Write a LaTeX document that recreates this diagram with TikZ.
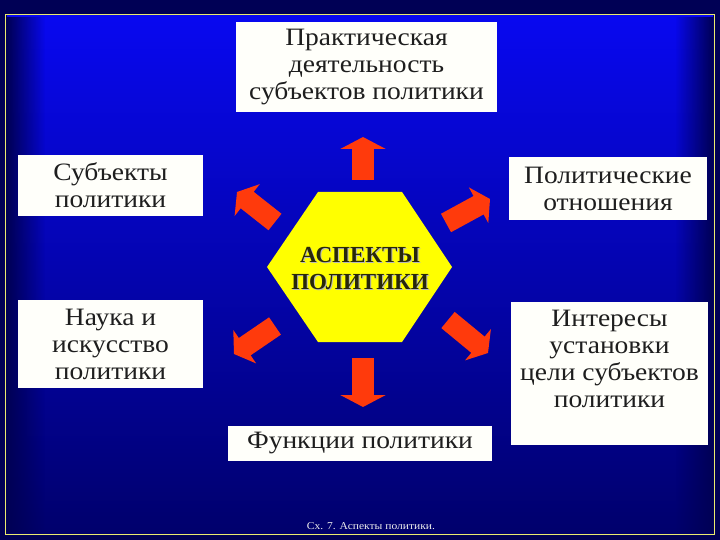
\documentclass[tikz,border=0pt]{standalone}
\usepackage{fontspec}
\setmainfont{Liberation Serif}[FakeStretch=1.1]
\newfontfamily\hexfont{Liberation Serif}
\usepackage{tikz}
\usetikzlibrary{arrows.meta,fadings}
\definecolor{outernavy}{RGB}{0,0,85}
\definecolor{topblue}{RGB}{8,8,240}
\definecolor{botblue}{RGB}{0,0,108}
\definecolor{frameyellow}{RGB}{235,235,110}
\definecolor{boxwhite}{RGB}{255,255,250}
\definecolor{boxtext}{RGB}{30,30,30}
\definecolor{arrowred}{RGB}{255,58,12}
\definecolor{hexyellow}{RGB}{255,255,0}
\definecolor{hextext}{RGB}{40,40,10}

\begin{document}
\begin{tikzpicture}[x=1pt,y=-1pt]
      \tikzstyle{boxlabel}=[text=boxtext,inner sep=0pt,align=center,font=\fontsize{25}{27}\selectfont]
      \tikzstyle{box}=[boxlabel,fill=boxwhite]
      \tikzstyle{hextitle}=[text=hextext,inner sep=0pt,align=center,font=\hexfont\bfseries\fontsize{23}{26.5}\selectfont]
      \tikzstyle{varrow}=[line width=22pt,draw=arrowred,-{Triangle[width=45pt,length=12pt]}]
      \tikzstyle{darrow}=[line width=21pt,draw=arrowred,-{Triangle[width=40pt,length=13pt]}]
      %%% background and frame
      \useasboundingbox (0,0) rectangle (720,540);
      \fill[outernavy] (0,0) rectangle (720,540);
      \shade[top color=topblue,bottom color=botblue] (7,16) rectangle (713,533);
      \fill[outernavy,path fading=east] (7,16) rectangle (45,533);
      \fill[outernavy,path fading=west] (675,16) rectangle (713,533);
      \draw[frameyellow,line width=1.5pt] (5.5,14.5) rectangle (714.5,534.5);
      %%% hexagon
      \fill[hexyellow] (267,267) -- (318,192) -- (402,192) -- (452,267) -- (402,342) -- (318,342) -- cycle;
      \node[hextitle,text=gray!55] (aspectsShadow) at (361,269.5) {АСПЕКТЫ\\ПОЛИТИКИ};
      \node[hextitle] (aspects) at (360,268.5) {АСПЕКТЫ\\ПОЛИТИКИ};
      %%% boxes
      \node[box,minimum width=261pt,minimum height=90pt] (practice) at (366.5,67) {Практическая\\деятельность\\субъектов политики};
      \node[box,minimum width=185pt,minimum height=61pt] (subjects) at (110.5,185.5) {Субъекты\\политики};
      \node[box,minimum width=185pt,minimum height=88pt] (science) at (110.5,344) {Наука и\\искусство\\политики};
      \node[box,minimum width=198pt,minimum height=63pt] (relations) at (608,188.5) {Политические\\отношения};
      \node[box,minimum width=197pt,minimum height=143pt] (interests) at (609.5,373.5) {};
      \node[boxlabel,anchor=north] (interestsText) at (609.5,310) {Интересы\\установки\\цели субъектов\\политики};
      \node[box,minimum width=264pt,minimum height=35pt] (functions) at (360,443.5) {Функции политики};
      %%% arrows
      \coordinate (tail1) at (363,180); \coordinate (tip1) at (363,137);
      \coordinate (tail2) at (363,358); \coordinate (tip2) at (363,407);
      \coordinate (tail3) at (275,222); \coordinate (tip3) at (237,192);
      \coordinate (tail4) at (446,223); \coordinate (tip4) at (490,199);
      \coordinate (tail5) at (275,326); \coordinate (tip5) at (234,354);
      \coordinate (tail6) at (448,320); \coordinate (tip6) at (488,353);
      \draw[varrow] (tail1) -- (tip1);
      \draw[varrow] (tail2) -- (tip2);
      \draw[darrow] (tail3) -- (tip3);
      \draw[darrow] (tail4) -- (tip4);
      \draw[darrow] (tail5) -- (tip5);
      \draw[darrow] (tail6) -- (tip6);
      %%% caption
      \node[text=white!85!gray,inner sep=0pt,font=\fontsize{10.5}{12}\selectfont] (caption) at (371,526) {Сх. 7. Аспекты политики.};
\end{tikzpicture}
\end{document}
